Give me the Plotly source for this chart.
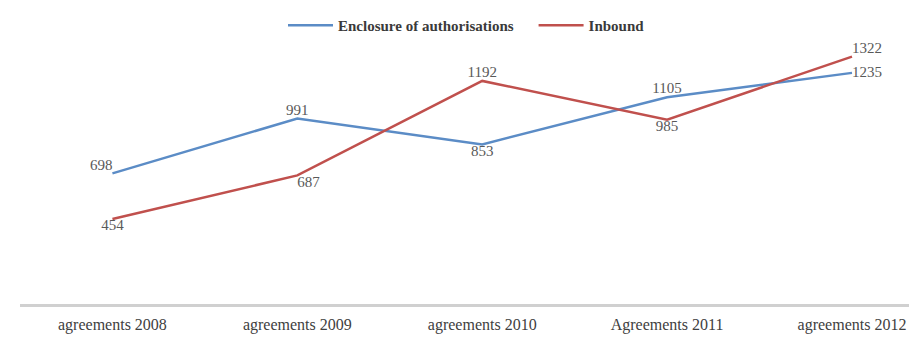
import plotly.graph_objects as go

categories = ["agreements 2008", "agreements 2009", "agreements 2010", "Agreements 2011", "agreements 2012"]
series_blue_name = "Enclosure of authorisations"
series_red_name = "Inbound"
blue_values = [698, 991, 853, 1105, 1235]
red_values = [454, 687, 1192, 985, 1322]

blue_pos = ["top left", "top center", "bottom center", "top center", "middle right"]
red_pos = ["bottom center", "bottom right", "top center", "bottom center", "top right"]

x_idx = list(range(len(categories)))

label_font = dict(color="#595959", size=15, family="Liberation Serif")

fig = go.Figure()
fig.add_trace(go.Scatter(
    x=x_idx, y=blue_values, mode="lines+text", name=series_blue_name + "    ",
    line=dict(color="#5B8CC6", width=2.5),
    text=[str(v) for v in blue_values], textposition=blue_pos,
    textfont=label_font, cliponaxis=False,
))
fig.add_trace(go.Scatter(
    x=x_idx, y=red_values, mode="lines+text", name=series_red_name,
    line=dict(color="#C0504D", width=2.5),
    text=[str(v) for v in red_values], textposition=red_pos,
    textfont=label_font, cliponaxis=False,
))

fig.update_layout(
    width=917, height=339,
    margin=dict(l=12, r=12, t=34, b=43, autoexpand=False),
    paper_bgcolor="white", plot_bgcolor="white",
    showlegend=True,
    legend=dict(orientation="h", x=0.5, xanchor="center", y=1.0, yanchor="bottom",
                yref="paper", font=dict(size=15, color="#3A3A3A", family="Liberation Serif", weight="bold"),
                itemwidth=45),
    xaxis=dict(
        tickmode="array", tickvals=x_idx, ticktext=categories,
        range=[-0.5, 4.33], showgrid=False, zeroline=False,
        showline=True, linecolor="#D0D0D0", linewidth=3,
        tickfont=dict(size=16, color="#404040", family="Liberation Serif"),
        ticks="", ticklabelstandoff=4,
    ),
    yaxis=dict(range=[0, 1400], showgrid=False, zeroline=False, showticklabels=False,
               showline=False),
)

fig.write_html("out.html")
